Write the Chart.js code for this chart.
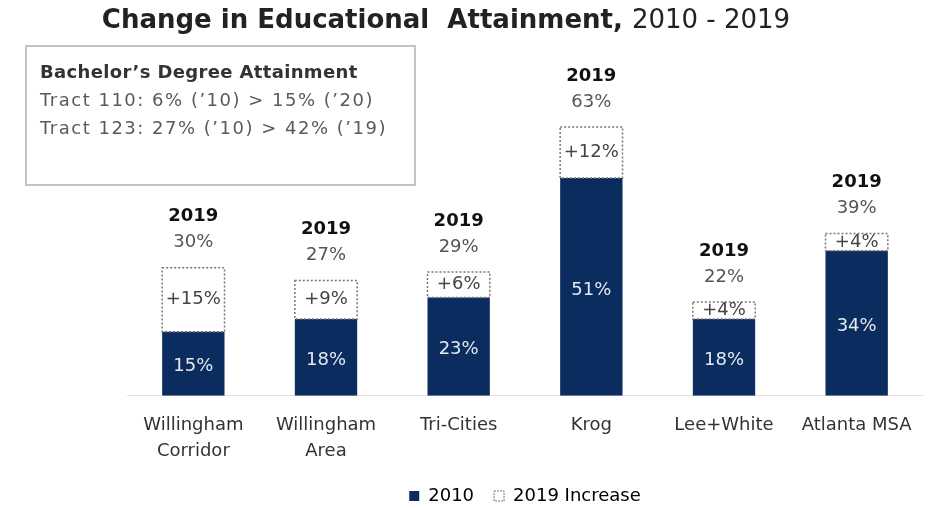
<!DOCTYPE html>
<html>
<head>
<meta charset="utf-8">
<script src="https://cdn.jsdelivr.net/npm/chart.js@4/dist/chart.umd.min.js"></script>
<style>
  html, body { margin: 0; padding: 0; background: #fff; }
  #wrap { width: 939px; height: 508px; position: relative; }
</style>
</head>
<body>
<div id="wrap"><canvas id="chart" width="939" height="508"></canvas></div>
<script>
const categories = [['Willingham', 'Corridor'], ['Willingham', 'Area'], 'Tri-Cities', 'Krog', 'Lee+White', 'Atlanta MSA'];
const base2010 = [15, 18, 23, 51, 18, 34];
const increase2019 = [15, 9, 6, 12, 4, 4];
const total2019 = [30, 27, 29, 63, 22, 39];
const noteTitle = "Bachelor\u2019s Degree Attainment";
const noteLines = ["Tract 110: 6% (\u201910) > 15% (\u201920)", "Tract 123: 27% (\u201910) > 42% (\u201919)"];

const NAVY = '#0b2c5e';
const FONT = "'DejaVu Sans', 'Liberation Sans', sans-serif";

// title, note box and bar labels
const extras = {
    id: 'extras',
    afterDraw(chart) {
        const ctx = chart.ctx;
        ctx.save();

        // title with two weights
        const boldPart = 'Change in Educational  Attainment, ';
        const normPart = '2010 - 2019';
        ctx.font = 'bold 26px ' + FONT;
        const w1 = ctx.measureText(boldPart).width;
        ctx.font = '26px ' + FONT;
        const w2 = ctx.measureText(normPart).width;
        let tx = 446 - (w1 + w2) / 2;
        ctx.textBaseline = 'middle';
        ctx.textAlign = 'left';
        ctx.fillStyle = '#222';
        ctx.font = 'bold 26px ' + FONT;
        ctx.fillText(boldPart, tx, 21);
        ctx.font = '26px ' + FONT;
        ctx.fillText(normPart, tx + w1, 21);

        // note box
        ctx.strokeStyle = '#c4c4c4';
        ctx.lineWidth = 2;
        ctx.strokeRect(26, 46, 389, 139);
        ctx.fillStyle = '#333';
        ctx.font = 'bold 18px ' + FONT;
        ctx.letterSpacing = '0.35px';
        ctx.fillText(noteTitle, 40, 73);
        ctx.fillStyle = '#5a5a5a';
        ctx.font = '18px ' + FONT;
        ctx.letterSpacing = '1.5px';
        noteLines.forEach((t, i) => ctx.fillText(t, 40, 101 + i * 28));
        ctx.letterSpacing = '0px';

        // bar labels
        const m0 = chart.getDatasetMeta(0);
        const m1 = chart.getDatasetMeta(1);
        ctx.textAlign = 'center';
        m0.data.forEach((bar, i) => {
            ctx.fillStyle = '#e4e8f0';
            ctx.font = '18px ' + FONT;
            ctx.fillText(base2010[i] + '%', bar.x, (bar.y + bar.base) / 2 + 3);
        });
        m1.data.forEach((bar, i) => {
            const w = bar.width;
            ctx.setLineDash([2, 2]);
            ctx.lineWidth = 1.5;
            ctx.strokeStyle = '#777';
            ctx.strokeRect(bar.x - w / 2, bar.y, w, bar.base - bar.y);
            ctx.setLineDash([]);
            ctx.fillStyle = '#444';
            ctx.font = '18px ' + FONT;
            ctx.fillText('+' + increase2019[i] + '%', bar.x, (bar.y + bar.base) / 2);
            ctx.fillStyle = '#555';
            ctx.fillText(total2019[i] + '%', bar.x, bar.y - 25);
            ctx.fillStyle = '#111';
            ctx.font = 'bold 18px ' + FONT;
            ctx.fillText('2019', bar.x, bar.y - 51);
        });
        ctx.restore();
    }
};

new Chart(document.getElementById('chart'), {
    type: 'bar',
    data: {
        labels: categories,
        datasets: [
            { label: '2010', data: base2010, backgroundColor: NAVY, barPercentage: 0.47, categoryPercentage: 1 },
            { label: '2019 Increase', data: increase2019, backgroundColor: '#ffffff', barPercentage: 0.47, categoryPercentage: 1 }
        ]
    },
    options: {
        responsive: false,
        animation: false,
        layout: { padding: { top: 97, left: 127, right: 16, bottom: -7 } },
        plugins: {
            title: { display: false },
            tooltip: { enabled: false },
            legend: {
                position: 'bottom',
                fullSize: false,
                labels: {
                    boxWidth: 10,
                    boxHeight: 10,
                    color: '#444',
                    font: { family: FONT, size: 18 },
                    padding: 20,
                    generateLabels() {
                        return [
                            { text: '2010', fillStyle: NAVY, strokeStyle: NAVY, lineWidth: 0, datasetIndex: 0 },
                            { text: '2019 Increase', fillStyle: '#fff', strokeStyle: '#777', lineWidth: 1, lineDash: [2, 1], datasetIndex: 1 }
                        ];
                    }
                }
            }
        },
        scales: {
            x: {
                stacked: true,
                grid: { display: false },
                border: { color: '#e2e2e2' },
                ticks: { color: '#333', font: { family: FONT, size: 18, lineHeight: 1.45 }, padding: 8 },
                afterFit(scale) { scale.height -= 5; }
            },
            y: { stacked: true, display: false, min: 0, max: 70 }
        }
    },
    plugins: [extras]
});
</script>
</body>
</html>
